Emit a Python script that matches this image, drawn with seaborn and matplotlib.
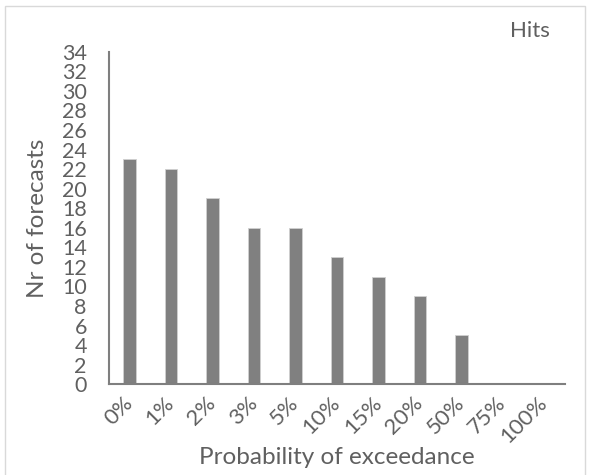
import matplotlib
matplotlib.use("Agg")
import matplotlib.pyplot as plt
import matplotlib.patches as mpatches
import seaborn as sns
import pandas as pd

# Forecast hit counts per exceedance-probability class
categories = ["0%", "1%", "2%", "3%", "5%", "10%", "15%", "20%", "50%", "75%", "100%"]
hits = [23, 22, 19, 16, 16, 13, 11, 9, 5, 0, 0]
y_ticks = list(range(0, 35, 2))

df = pd.DataFrame({"prob": categories, "hits": hits})

sns.set_theme(style="white")
plt.rcParams["font.family"] = ["Lato", "DejaVu Sans"]

text_color = "#606060"
axis_color = "#7f7f7f"

fig = plt.figure(figsize=(5.9, 4.75), dpi=100)
ax = fig.add_axes([0.1847, 0.191, 0.773, 0.700])

sns.barplot(data=df, x="prob", y="hits", order=categories, color="#808080",
            saturation=1, width=0.3, edgecolor="#d0d0d0", linewidth=0.6, ax=ax)

ax.set_ylim(0, 34)
ax.set_xlim(-0.5, len(categories) - 0.5)
ax.set_yticks(y_ticks)
ax.set_yticklabels([str(t) for t in y_ticks], fontsize=15.5, color=text_color)
ax.tick_params(axis="y", length=0, pad=16)
ax.tick_params(axis="x", length=0, pad=11)
ax.set_xticks(range(len(categories)))
ax.set_xticklabels(categories, rotation=45, ha="right", va="center",
                   rotation_mode="anchor", fontsize=16, color=text_color)
ax.set_xlabel("Probability of exceedance", fontsize=17.5, color=text_color,
              labelpad=0)
ax.set_ylabel("Nr of forecasts", fontsize=17.5, color=text_color, labelpad=10)

for side in ("top", "right"):
    ax.spines[side].set_visible(False)
for side in ("left", "bottom"):
    ax.spines[side].set_color(axis_color)
    ax.spines[side].set_linewidth(1.5)

fig.text(0.898, 0.935, "Hits", fontsize=16, color=text_color, ha="center",
         va="center")

# light frame around the chart area
fig.patches.append(mpatches.Rectangle((0.009, -0.01), 0.982, 0.998, transform=fig.transFigure,
                                      fill=False, edgecolor="#d9d9d9", linewidth=1.0))

fig.savefig("out.png", dpi=100)
